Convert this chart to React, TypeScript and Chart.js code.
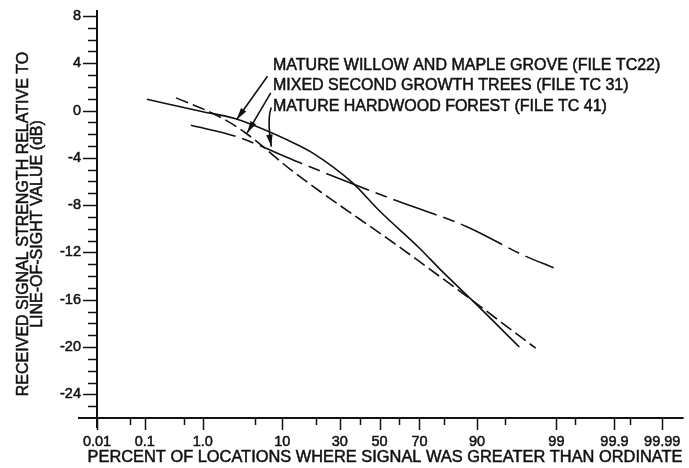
import React, { useEffect, useRef } from "react";
import { Chart, registerables } from "chart.js";

Chart.register(...registerables);

// ---------- data ----------
const xTickPercents = [0.01, 0.1, 1, 10, 30, 50, 70, 90, 99, 99.9, 99.99];
const xTickLabels = ["0.01", "0.1", "1.0", "10", "30", "50", "70", "90", "99", "99.9", "99.99"];
const xMinorPercents = [0.05, 0.5, 5, 20, 40, 60, 80, 95, 99.5, 99.95];
const yTickValues = [8, 4, 0, -4, -8, -12, -16, -20, -24];

const seriesLabels = [
  "MATURE WILLOW AND MAPLE GROVE (FILE TC22)",
  "MIXED SECOND GROWTH TREES (FILE TC 31)",
  "MATURE HARDWOOD FOREST (FILE TC 41)",
];

const tc22Percent = [0.11, 1.0, 2.9, 12.9, 19, 36, 50, 69.8, 79, 89, 96.7];
const tc22Db = [0.95, -0.1, -0.7, -2.74, -3.6, -6.1, -8.5, -11.6, -13.5, -16.1, -20.0];

const tc31Percent = [0.37, 1.7, 3.9, 12.9, 61.6, 89, 98.0];
const tc31Db = [1.07, -0.48, -1.9, -5.2, -11.7, -16.1, -20.1];

const tc41Percent = [0.65, 2.9, 12.9, 36, 60, 87.3, 97, 98.9];
const tc41Db = [-1.25, -2.18, -4.2, -6.2, -7.7, -9.8, -12.2, -13.3];

// annotation arrows (percent, dB)
const arrow1 = { from: [7.0, 2.9], to: [3.0, -0.76] };
const arrow2 = { from: [7.6, 1.5], to: [4.07, -1.89] };
const arrow3 = { from: [7.7, 0.25], via: [6.9, -0.7], to: [7.7, -3.05] };

// ---------- helpers ----------
function invNorm(p: number): number {
  const a = [-3.969683028665376e1, 2.209460984245205e2, -2.759285104469687e2, 1.38357751867269e2, -3.066479806614716e1, 2.506628277459239];
  const b = [-5.447609879822406e1, 1.615858368580409e2, -1.556989798598866e2, 6.680131188771972e1, -1.328068155288572e1];
  const c = [-7.784894002430293e-3, -3.223964580411365e-1, -2.400758277161838, -2.549732539343734, 4.374664141464968, 2.938163982698783];
  const d = [7.784695709041462e-3, 3.224671290700398e-1, 2.445134137142996, 3.754408661907416];
  const pl = 0.02425;
  const ph = 1 - pl;
  let q: number, r: number;
  if (p < pl) {
    q = Math.sqrt(-2 * Math.log(p));
    return (((((c[0] * q + c[1]) * q + c[2]) * q + c[3]) * q + c[4]) * q + c[5]) / ((((d[0] * q + d[1]) * q + d[2]) * q + d[3]) * q + 1);
  }
  if (p > ph) {
    q = Math.sqrt(-2 * Math.log(1 - p));
    return -(((((c[0] * q + c[1]) * q + c[2]) * q + c[3]) * q + c[4]) * q + c[5]) / ((((d[0] * q + d[1]) * q + d[2]) * q + d[3]) * q + 1);
  }
  q = p - 0.5;
  r = q * q;
  return ((((((a[0] * r + a[1]) * r + a[2]) * r + a[3]) * r + a[4]) * r + a[5]) * q) / (((((b[0] * r + b[1]) * r + b[2]) * r + b[3]) * r + b[4]) * r + 1);
}
const zOf = (pct: number) => invNorm(pct / 100);

const INK = "#111111";
const FONT = "'Liberation Sans', Arial, Helvetica, sans-serif";

const paperPlugin = {
  id: "paper",
  afterDraw(chart: any) {
    const { ctx, chartArea: a, scales } = chart;
    const xs = scales.x;
    const ys = scales.y;
    const px = (pct: number) => xs.getPixelForValue(zOf(pct));
    const py = (db: number) => ys.getPixelForValue(db);
    ctx.save();
    ctx.strokeStyle = INK;
    ctx.fillStyle = INK;
    ctx.lineCap = "butt";

    // axes lines
    ctx.lineWidth = 2;
    ctx.beginPath();
    ctx.moveTo(a.left, a.top);
    ctx.lineTo(a.left, a.bottom + 10);
    ctx.moveTo(a.left - 19, a.bottom);
    ctx.lineTo(a.right, a.bottom);
    ctx.stroke();

    // y ticks
    ctx.lineWidth = 1.5;
    ctx.beginPath();
    for (let v = Math.ceil(ys.min); v <= Math.floor(ys.max); v++) {
      if (v === ys.min) continue;
      const yy = Math.round(py(v)) + 0.5;
      const len = yTickValues.includes(v) ? 14 : 9;
      ctx.moveTo(a.left - len, yy);
      ctx.lineTo(a.left, yy);
    }
    ctx.stroke();

    // x ticks
    ctx.beginPath();
    xTickPercents.forEach((p) => {
      const xx = Math.round(px(p)) + 0.5;
      ctx.moveTo(xx, a.bottom);
      ctx.lineTo(xx, a.bottom + 12);
    });
    xMinorPercents.forEach((p) => {
      const xx = Math.round(px(p)) + 0.5;
      ctx.moveTo(xx, a.bottom);
      ctx.lineTo(xx, a.bottom + 7);
    });
    ctx.stroke();

    const text = (s: string, x: number, y: number) => {
      ctx.fillText(s, x, y);
      ctx.strokeText(s, x, y);
    };

    // axis titles
    ctx.lineWidth = 0.5;
    ctx.font = `16.4px ${FONT}`;
    ctx.textAlign = "center";
    ctx.textBaseline = "alphabetic";
    text("PERCENT OF LOCATIONS WHERE SIGNAL WAS GREATER THAN ORDINATE", 385, 462);
    ctx.font = `16px ${FONT}`;
    ctx.save();
    ctx.translate(28, 224);
    ctx.rotate(-Math.PI / 2);
    text("RECEIVED SIGNAL STRENGTH RELATIVE TO", 0, 0);
    ctx.restore();
    ctx.save();
    ctx.translate(42, 224);
    ctx.rotate(-Math.PI / 2);
    text("LINE-OF-SIGHT VALUE (dB)", 0, 0);
    ctx.restore();

    // annotation labels
    ctx.textAlign = "left";
    text(seriesLabels[0], 273, 70);
    text(seriesLabels[1], 273, 90);
    text(seriesLabels[2], 273, 111);

    // arrows
    const head = (fx: number, fy: number, tx: number, ty: number) => {
      const ang = Math.atan2(ty - fy, tx - fx);
      const L = 12;
      const W = 3.2;
      const bx = tx - L * Math.cos(ang);
      const by = ty - L * Math.sin(ang);
      ctx.beginPath();
      ctx.moveTo(tx, ty);
      ctx.lineTo(bx + W * Math.sin(ang), by - W * Math.cos(ang));
      ctx.lineTo(bx - W * Math.sin(ang), by + W * Math.cos(ang));
      ctx.closePath();
      ctx.fill();
    };
    ctx.lineWidth = 1.6;
    [arrow1, arrow2].forEach((ar) => {
      const fx = px(ar.from[0]);
      const fy = py(ar.from[1]);
      const tx = px(ar.to[0]);
      const ty = py(ar.to[1]);
      ctx.beginPath();
      ctx.moveTo(fx, fy);
      ctx.lineTo(tx, ty);
      ctx.stroke();
      head(fx, fy, tx, ty);
    });
    {
      const fx = px(arrow3.from[0]);
      const fy = py(arrow3.from[1]);
      const cx = px(arrow3.via[0]);
      const cy = py(arrow3.via[1]);
      const tx = px(arrow3.to[0]);
      const ty = py(arrow3.to[1]);
      ctx.beginPath();
      ctx.moveTo(fx, fy);
      ctx.quadraticCurveTo(cx, cy, tx, ty);
      ctx.stroke();
      head(cx, cy, tx, ty);
    }
    ctx.restore();
  },
};

export default function App() {
  const canvasRef = useRef<HTMLCanvasElement | null>(null);

  useEffect(() => {
    document.body.style.margin = "0";
    const canvas = canvasRef.current;
    if (!canvas) return;
    const mk = (pcts: number[], dbs: number[]) => pcts.map((p, i) => ({ x: zOf(p), y: dbs[i] }));
    const chart = new Chart(canvas, {
      type: "line",
      data: {
        datasets: [
          {
            label: seriesLabels[0],
            data: mk(tc22Percent, tc22Db),
            borderColor: INK,
            borderWidth: 1.6,
            pointRadius: 0,
            cubicInterpolationMode: "monotone",
            fill: false,
          },
          {
            label: seriesLabels[1],
            data: mk(tc31Percent, tc31Db),
            borderColor: INK,
            borderWidth: 1.6,
            borderDash: [13, 5],
            pointRadius: 0,
            cubicInterpolationMode: "monotone",
            fill: false,
          },
          {
            label: seriesLabels[2],
            data: mk(tc41Percent, tc41Db),
            borderColor: INK,
            borderWidth: 1.6,
            borderDash: [46, 7, 12, 7],
            pointRadius: 0,
            cubicInterpolationMode: "monotone",
            fill: false,
          },
        ],
      },
      options: {
        responsive: false,
        animation: false,
        devicePixelRatio: 1,
        layout: { padding: { top: 10, right: 5.4, left: 0, bottom: 0 } },
        plugins: { legend: { display: false }, tooltip: { enabled: false } },
        scales: {
          x: {
            type: "linear",
            min: zOf(0.01),
            max: 4.0,
            afterBuildTicks: (s: any) => {
              s.ticks = xTickPercents.map((p) => ({ value: zOf(p) }));
            },
            afterFit: (s: any) => {
              s.height = 50;
            },
            grid: {
              display: true,
              drawOnChartArea: false,
              drawTicks: true,
              tickLength: 15,
              tickColor: "rgba(0,0,0,0)",
            },
            border: { display: false },
            ticks: {
              autoSkip: false,
              maxRotation: 0,
              minRotation: 0,
              padding: 0,
              color: INK,
              textStrokeColor: INK,
              textStrokeWidth: 0.5,
              font: { family: FONT, size: 14.5 },
              callback: (_v: any, i: number) => xTickLabels[i],
            },
          },
          y: {
            type: "linear",
            min: -26,
            max: 8.5,
            afterBuildTicks: (s: any) => {
              s.ticks = yTickValues.map((v) => ({ value: v }));
            },
            afterFit: (s: any) => {
              s.width = 97;
            },
            grid: {
              display: true,
              drawOnChartArea: false,
              drawTicks: true,
              tickLength: 16,
              tickColor: "rgba(0,0,0,0)",
            },
            border: { display: false },
            ticks: {
              padding: 0,
              color: INK,
              textStrokeColor: INK,
              textStrokeWidth: 0.5,
              font: { family: FONT, size: 14.5 },
            },
          },
        },
      },
      plugins: [paperPlugin],
    } as any);
    return () => chart.destroy();
  }, []);

  return (
    <div style={{ width: 689, height: 468, background: "#fff" }}>
      <canvas ref={canvasRef} width={689} height={468} style={{ display: "block" }} />
    </div>
  );
}
